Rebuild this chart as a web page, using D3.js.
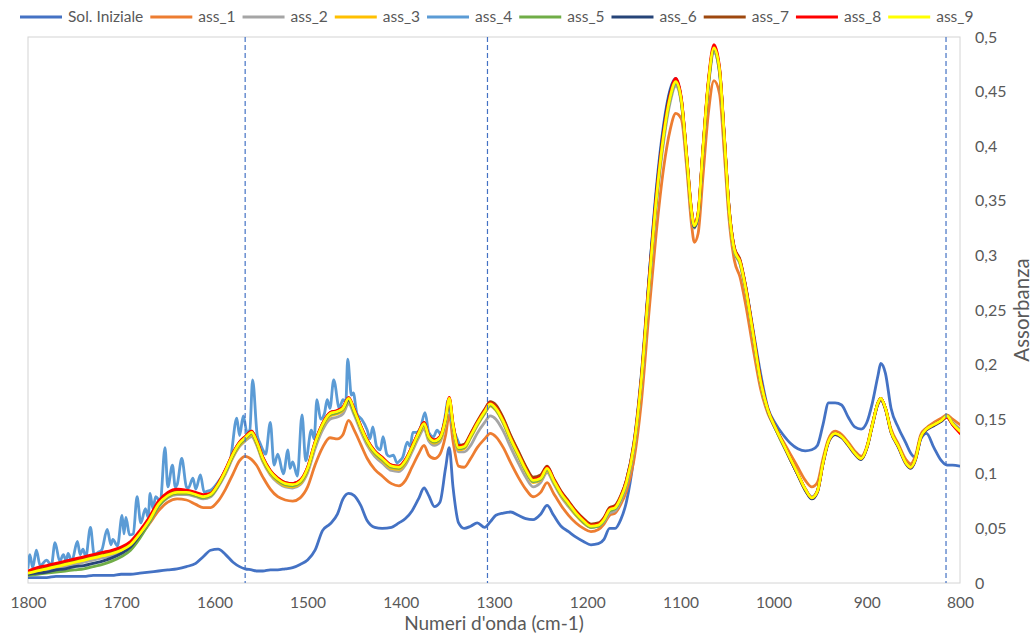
<!DOCTYPE html>
<html>
<head>
<meta charset="utf-8">
<script src="https://cdn.jsdelivr.net/npm/d3@7/dist/d3.min.js"></script>
<style>
  html, body { margin: 0; padding: 0; background: #fff; }
  svg { display: block; font-family: Lato, "Open Sans", sans-serif; }
</style>
</head>
<body>
<svg id="chart" width="1036" height="635"></svg>
<script>
// Wavenumber grid (cm-1) shared by the smooth spectra
const wavenumbers = [
  1800,1790,1780,1770,1760,1750,1740,1730,1720,1710,
  1700,1690,1680,1670,1660,1650,1640,1630,1620,1612,
  1604,1596,1588,1580,1573,1567,1560,1555,1548,1540,
  1532,1524,1516,1508,1500,1492,1484,1476,1468,1462,
  1456,1450,1443,1436,1428,1420,1410,1402,1395,1388,
  1381,1375,1370,1364,1358,1352,1348,1344,1338,1332,
  1325,1318,1310,1304,1298,1290,1282,1274,1266,1258,
  1250,1243,1236,1228,1220,1212,1204,1196,1188,1182,
  1176,1170,1164,1158,1150,1142,1134,1126,1118,1111,
  1105,1099,1093,1088,1085,1081,1076,1070,1064,1058,
  1053,1048,1042,1036,1030,1022,1014,1006,998,990,
  982,974,966,959,953,947,941,934,927,920,
  913,906,900,894,888,885,880,874,866,858,
  853,848,842,836,828,820,814,808,800
];

const solIniziale = [
  .005,.005,.005,.006,.006,.006,.006,.007,.007,.007,
  .008,.008,.009,.010,.011,.012,.013,.015,.018,.024,
  .030,.031,.026,.019,.015,.013,.012,.011,.011,.012,
  .012,.013,.014,.017,.021,.030,.048,.054,.063,.077,
  .082,.080,.071,.057,.051,.050,.051,.055,.059,.066,
  .077,.087,.080,.070,.074,.105,.124,.088,.055,.050,
  .052,.055,.051,.056,.062,.064,.065,.062,.059,.058,
  .063,.071,.062,.052,.047,.042,.038,.035,.036,.040,
  .050,.050,.058,.074,.115,.180,.275,.360,.420,.452,
  .462,.440,.385,.338,.326,.336,.392,.455,.487,.467,
  .408,.345,.306,.294,.272,.232,.192,.160,.146,.136,
  .128,.123,.121,.122,.126,.145,.165,.165,.163,.152,
  .143,.141,.147,.165,.190,.201,.192,.160,.142,.128,
  .119,.115,.132,.137,.124,.112,.108,.108,.107
];

const ass1 = [
  .008,.010,.012,.014,.016,.018,.020,.022,.024,.026,
  .029,.034,.043,.054,.066,.074,.077,.076,.072,.069,
  .069,.075,.086,.100,.112,.116,.113,.108,.097,.086,
  .079,.076,.075,.078,.088,.108,.124,.133,.132,.136,
  .149,.140,.127,.114,.104,.098,.091,.089,.094,.106,
  .118,.126,.117,.114,.118,.135,.154,.130,.107,.106,
  .114,.124,.132,.137,.134,.124,.110,.097,.086,.079,
  .083,.092,.082,.071,.062,.055,.050,.047,.049,.054,
  .062,.064,.072,.084,.112,.165,.245,.320,.380,.415,
  .430,.425,.378,.328,.312,.320,.370,.430,.460,.448,
  .395,.335,.295,.280,.255,.215,.178,.155,.142,.130,
  .118,.106,.094,.088,.092,.114,.132,.139,.136,.129,
  .121,.116,.125,.146,.164,.168,.160,.141,.127,.113,
  .109,.116,.136,.142,.147,.151,.154,.150,.145
];

const ass2 = [
  .007,.009,.011,.013,.015,.017,.019,.021,.023,.025,
  .028,.033,.043,.055,.070,.078,.081,.081,.079,.077,
  .079,.088,.100,.115,.125,.130,.134,.127,.111,.099,
  .092,.088,.087,.090,.101,.123,.140,.150,.152,.155,
  .164,.154,.139,.126,.116,.110,.103,.102,.108,.120,
  .133,.141,.130,.126,.129,.146,.164,.141,.120,.120,
  .126,.137,.147,.153,.150,.139,.124,.110,.097,.088,
  .092,.101,.091,.079,.070,.062,.055,.051,.052,.056,
  .064,.066,.075,.089,.121,.180,.264,.344,.404,.440,
  .455,.439,.385,.338,.325,.336,.392,.454,.486,.467,
  .407,.343,.303,.292,.268,.226,.184,.157,.141,.127,
  .113,.099,.086,.079,.085,.110,.130,.137,.134,.127,
  .119,.114,.124,.145,.165,.168,.160,.139,.125,.110,
  .106,.113,.134,.141,.145,.149,.153,.147,.141
];

const ass3 = [
  .009,.011,.013,.015,.017,.019,.021,.023,.025,.027,
  .030,.035,.044,.056,.071,.079,.082,.082,.080,.078,
  .080,.089,.101,.116,.126,.131,.136,.128,.112,.100,
  .093,.089,.088,.091,.103,.126,.143,.153,.155,.158,
  .167,.156,.141,.128,.118,.112,.105,.104,.110,.122,
  .135,.144,.132,.128,.131,.148,.167,.143,.122,.123,
  .133,.144,.155,.162,.158,.146,.130,.116,.102,.092,
  .094,.103,.092,.080,.071,.062,.055,.051,.052,.057,
  .066,.068,.077,.091,.124,.184,.268,.348,.408,.443,
  .457,.441,.387,.339,.326,.337,.394,.457,.489,.469,
  .409,.344,.304,.293,.269,.227,.184,.157,.141,.127,
  .113,.099,.085,.078,.084,.110,.130,.137,.134,.127,
  .119,.114,.124,.145,.165,.169,.160,.139,.125,.110,
  .106,.113,.134,.141,.145,.149,.153,.146,.139
];

// ass_4 is the noisy run, sampled on its own finer wavenumber list
const ass4Wn = [
  1800,1798,1795,1791,1787,1780,1775,1771,1766,1762,1759,1757,1753,1747,1744,1741,1738,
  1733,1729,1725,1721,1715,1711,1709,1704,1699,1697,1695,1691,1687,1683,1679,1674,1671,
  1669,1666,1663,1658,1653,1650,1645,1642,1640,1635,1630,1628,1623,1620,1615,1611,1608,
  1604,1594,1583,1576,1573,1569,1565,1562,1559,1554,1551,1548,1545,1540,1536,1532,1526,
  1521,1519,1516,1511,1506,1502,1496,1493,1490,1486,1482,1479,1476,1472,1466,1462,1459,
  1457,1453,1451,1447,1442,1436,1433,1430,1426,1422,1419,1415,1412,1408,1404,1401,1398,
  1393,1390,1387,1383,1379,1374,1370,1365,1361,1357,1353,1349,1345,1340,1335,1332,
  1325,1318,1310,1304,1298,1290,1282,1274,1266,1258,
  1250,1243,1236,1228,1220,1212,1204,1196,1188,1182,
  1176,1170,1164,1158,1150,1142,1134,1126,1118,1111,
  1105,1099,1093,1088,1085,1081,1076,1070,1064,1058,
  1053,1048,1042,1036,1030,1022,1014,1006,998,990,
  982,974,966,959,953,947,941,934,927,920,
  913,906,900,894,888,885,880,874,866,858,
  853,848,842,836,828,820,814,808,800
];
const ass4 = [
  .014,.026,.014,.030,.016,.021,.016,.037,.020,.026,.020,.027,.020,.038,.026,.031,.024,
  .051,.026,.028,.030,.049,.035,.040,.034,.062,.045,.060,.044,.045,.079,.055,.068,.060,
  .082,.068,.079,.075,.124,.088,.108,.088,.090,.114,.088,.087,.096,.086,.099,.083,.084,
  .085,.095,.112,.151,.135,.153,.138,.140,.186,.135,.128,.122,.118,.147,.108,.118,.100,
  .122,.105,.111,.098,.154,.112,.140,.132,.168,.150,.155,.168,.160,.186,.160,.168,.165,
  .205,.172,.174,.155,.150,.140,.132,.143,.125,.122,.134,.118,.116,.117,.110,.112,.115,
  .129,.125,.138,.138,.142,.156,.138,.134,.140,.136,.150,.168,.146,.133,.125,.126,
  .134,.145,.156,.163,.159,.147,.131,.117,.103,.093,
  .095,.104,.093,.081,.072,.063,.056,.051,.052,.057,
  .066,.068,.077,.091,.124,.184,.268,.348,.408,.443,
  .457,.441,.387,.339,.326,.337,.394,.457,.489,.469,
  .409,.344,.304,.293,.269,.227,.184,.157,.141,.127,
  .113,.099,.085,.078,.084,.110,.130,.137,.134,.127,
  .119,.114,.124,.145,.165,.169,.160,.139,.125,.110,
  .106,.113,.134,.141,.145,.149,.153,.146,.139
];

const ass5 = [
  .007,.008,.009,.010,.011,.012,.013,.015,.017,.020,
  .024,.030,.041,.055,.070,.079,.082,.082,.080,.078,
  .080,.089,.102,.117,.127,.132,.137,.129,.113,.101,
  .094,.090,.089,.092,.104,.127,.144,.154,.156,.159,
  .167,.156,.142,.129,.119,.113,.106,.105,.111,.123,
  .136,.145,.133,.129,.132,.149,.167,.144,.123,.124,
  .134,.145,.156,.163,.159,.147,.131,.117,.103,.093,
  .095,.104,.093,.081,.072,.063,.056,.051,.052,.057,
  .066,.068,.077,.091,.124,.184,.269,.349,.409,.444,
  .458,.441,.387,.339,.326,.337,.394,.457,.489,.469,
  .409,.344,.304,.293,.269,.227,.184,.157,.141,.127,
  .113,.099,.085,.078,.084,.110,.130,.137,.134,.127,
  .119,.114,.124,.145,.165,.169,.160,.139,.125,.110,
  .106,.113,.134,.141,.145,.149,.153,.146,.139
];

const ass6 = [
  .008,.009,.010,.012,.013,.015,.016,.018,.020,.023,
  .027,.033,.044,.057,.072,.080,.083,.083,.081,.079,
  .081,.090,.103,.118,.128,.133,.138,.130,.114,.102,
  .095,.091,.090,.093,.105,.128,.145,.155,.157,.160,
  .168,.158,.143,.130,.120,.114,.107,.106,.112,.124,
  .137,.146,.134,.130,.133,.150,.168,.145,.125,.126,
  .136,.147,.158,.165,.162,.150,.134,.120,.106,.096,
  .098,.106,.095,.083,.074,.065,.058,.053,.054,.059,
  .068,.070,.079,.094,.128,.190,.276,.356,.416,.450,
  .461,.443,.388,.340,.326,.337,.395,.458,.489,.470,
  .410,.346,.306,.295,.271,.229,.186,.158,.142,.128,
  .113,.099,.085,.077,.083,.109,.129,.136,.133,.126,
  .118,.113,.123,.144,.164,.168,.159,.138,.124,.109,
  .105,.112,.133,.140,.144,.148,.152,.145,.138
];

const ass7 = [
  .010,.012,.014,.016,.018,.020,.022,.024,.026,.028,
  .031,.036,.046,.058,.073,.081,.084,.084,.082,.080,
  .082,.091,.104,.119,.129,.134,.139,.131,.115,.103,
  .096,.092,.091,.094,.106,.129,.146,.156,.158,.161,
  .169,.159,.144,.131,.121,.115,.108,.107,.113,.125,
  .138,.147,.135,.131,.134,.151,.169,.146,.126,.127,
  .137,.148,.159,.166,.163,.151,.135,.121,.107,.097,
  .099,.107,.096,.084,.075,.066,.059,.054,.055,.060,
  .069,.071,.080,.094,.127,.187,.272,.352,.412,.447,
  .460,.443,.389,.341,.328,.339,.396,.459,.490,.471,
  .411,.346,.307,.296,.272,.230,.187,.159,.143,.128,
  .114,.100,.086,.078,.084,.110,.130,.137,.134,.127,
  .119,.114,.124,.145,.165,.169,.160,.139,.125,.110,
  .106,.113,.134,.141,.145,.149,.153,.146,.139
];

const ass8 = [
  .011,.014,.016,.018,.020,.022,.024,.026,.028,.030,
  .033,.038,.048,.060,.075,.083,.086,.085,.083,.081,
  .082,.091,.104,.119,.129,.134,.139,.131,.115,.103,
  .096,.092,.091,.094,.106,.129,.146,.156,.158,.161,
  .170,.159,.144,.131,.121,.115,.108,.107,.113,.125,
  .138,.147,.135,.131,.134,.151,.170,.146,.125,.126,
  .136,.147,.158,.165,.161,.149,.133,.119,.105,.095,
  .097,.106,.095,.083,.074,.065,.058,.053,.054,.059,
  .068,.070,.079,.093,.126,.186,.272,.352,.412,.447,
  .462,.444,.389,.341,.328,.339,.396,.460,.493,.472,
  .411,.346,.306,.295,.271,.229,.186,.158,.142,.128,
  .114,.100,.086,.078,.084,.110,.130,.137,.134,.127,
  .119,.114,.124,.145,.165,.169,.160,.139,.125,.110,
  .106,.113,.134,.141,.145,.149,.152,.145,.137
];

const ass9 = [
  .009,.011,.013,.015,.017,.019,.021,.023,.025,.027,
  .030,.035,.045,.057,.072,.080,.083,.083,.081,.079,
  .081,.090,.103,.118,.128,.133,.138,.130,.114,.102,
  .095,.091,.090,.093,.105,.128,.145,.155,.157,.160,
  .169,.158,.143,.130,.120,.114,.107,.106,.112,.124,
  .137,.146,.134,.130,.133,.150,.169,.145,.124,.125,
  .135,.146,.157,.164,.160,.148,.132,.118,.104,.094,
  .096,.105,.094,.082,.073,.064,.057,.052,.053,.058,
  .067,.069,.078,.092,.125,.185,.270,.350,.410,.445,
  .459,.442,.388,.340,.327,.338,.395,.458,.490,.470,
  .410,.345,.305,.294,.270,.228,.185,.158,.142,.128,
  .114,.100,.086,.078,.084,.110,.130,.137,.134,.127,
  .119,.114,.124,.145,.165,.169,.160,.139,.125,.110,
  .106,.113,.134,.141,.145,.149,.153,.146,.139
];

const seriesNames  = ["Sol. Iniziale","ass_1","ass_2","ass_3","ass_4","ass_5","ass_6","ass_7","ass_8","ass_9"];
const seriesColors = ["#4472C4","#ED7D31","#A5A5A5","#FFC000","#5B9BD5","#70AD47","#264478","#9E480E","#FF0000","#FFFF00"];
const seriesValues = [solIniziale, ass1, ass2, ass3, ass4, ass5, ass6, ass7, ass8, ass9];
const seriesWn     = [wavenumbers, wavenumbers, wavenumbers, wavenumbers, ass4Wn, wavenumbers, wavenumbers, wavenumbers, wavenumbers, wavenumbers];

// Reference band positions marked with dashed verticals (cm-1)
const markerWn = [1567, 1307, 815];

const xTicks = [1800,1700,1600,1500,1400,1300,1200,1100,1000,900,800];
const yTicks = [0,0.05,0.1,0.15,0.2,0.25,0.3,0.35,0.4,0.45,0.5];

const xTitle = "Numeri d'onda (cm-1)";
const yTitle = "Assorbanza";

// ---- layout ----
const svg = d3.select("#chart");
const plot = { left: 28, right: 960, top: 37, bottom: 583 };
const textColor = "#595959";

const x = d3.scaleLinear().domain([1800, 800]).range([plot.left, plot.right]);
const y = d3.scaleLinear().domain([0, 0.5]).range([plot.bottom, plot.top]);

// plot frame
svg.append("rect")
  .attr("x", plot.left).attr("y", plot.top)
  .attr("width", plot.right - plot.left).attr("height", plot.bottom - plot.top)
  .attr("fill", "none").attr("stroke", "#d4d4d4").attr("stroke-width", 1);

// axes
const fmt = v => String(+v.toFixed(2)).replace(".", ",");

const xAxis = svg.append("g")
  .attr("transform", `translate(0,${plot.bottom})`)
  .call(d3.axisBottom(x).tickValues(xTicks).tickSize(0).tickPadding(14).tickFormat(d => d));
xAxis.select(".domain").remove();
xAxis.selectAll("text").attr("fill", textColor).style("font-size", "15.5px").style("font-family", "Lato, sans-serif");

const yAxis = svg.append("g")
  .attr("transform", `translate(${plot.right},0)`)
  .call(d3.axisRight(y).tickValues(yTicks).tickSize(0).tickPadding(15).tickFormat(fmt));
yAxis.select(".domain").remove();
yAxis.selectAll("text").attr("fill", textColor).style("font-size", "16px").style("font-family", "Lato, sans-serif");

// axis titles
svg.append("text")
  .attr("x", (plot.left + plot.right) / 2).attr("y", 630)
  .attr("text-anchor", "middle").attr("fill", textColor)
  .style("font-size", "19px").text(xTitle);

svg.append("text")
  .attr("transform", `translate(1029,${(plot.top + plot.bottom) / 2}) rotate(-90)`)
  .attr("text-anchor", "middle").attr("fill", textColor)
  .style("font-size", "20.5px").text(yTitle);

// spectra
const line = d3.line()
  .x(d => x(d[0]))
  .y(d => y(d[1]))
  .curve(d3.curveMonotoneX);

svg.append("clipPath").attr("id", "plotClip")
  .append("rect").attr("x", plot.left).attr("y", plot.top - 5)
  .attr("width", plot.right - plot.left).attr("height", plot.bottom - plot.top + 5);

const linesG = svg.append("g").attr("clip-path", "url(#plotClip)");
seriesNames.forEach((name, i) => {
  const pts = seriesWn[i].map((w, k) => [w, seriesValues[i][k]]);
  linesG.append("path")
    .datum(pts)
    .attr("fill", "none")
    .attr("stroke", seriesColors[i])
    .attr("stroke-width", 2.8)
    .attr("stroke-linejoin", "round")
    .attr("stroke-linecap", "round")
    .attr("d", line);
});

// dashed marker lines
svg.append("g").selectAll("line").data(markerWn).join("line")
  .attr("x1", d => x(d)).attr("x2", d => x(d))
  .attr("y1", plot.top).attr("y2", plot.bottom)
  .attr("stroke", "#4472C4").attr("stroke-width", 1.2)
  .attr("stroke-dasharray", "5,3");

// legend
const legend = svg.append("g").attr("transform", "translate(20,17)");
let lx = 0;
seriesNames.forEach((name, i) => {
  legend.append("line")
    .attr("x1", lx).attr("x2", lx + 42).attr("y1", 0).attr("y2", 0)
    .attr("stroke", seriesColors[i]).attr("stroke-width", 2.8);
  const t = legend.append("text")
    .attr("x", lx + 48).attr("y", 0).attr("dy", "0.35em")
    .attr("fill", textColor).style("font-size", "15.5px").text(name);
  lx += 48 + t.node().getComputedTextLength() + 7;
});
</script>
</body>
</html>
